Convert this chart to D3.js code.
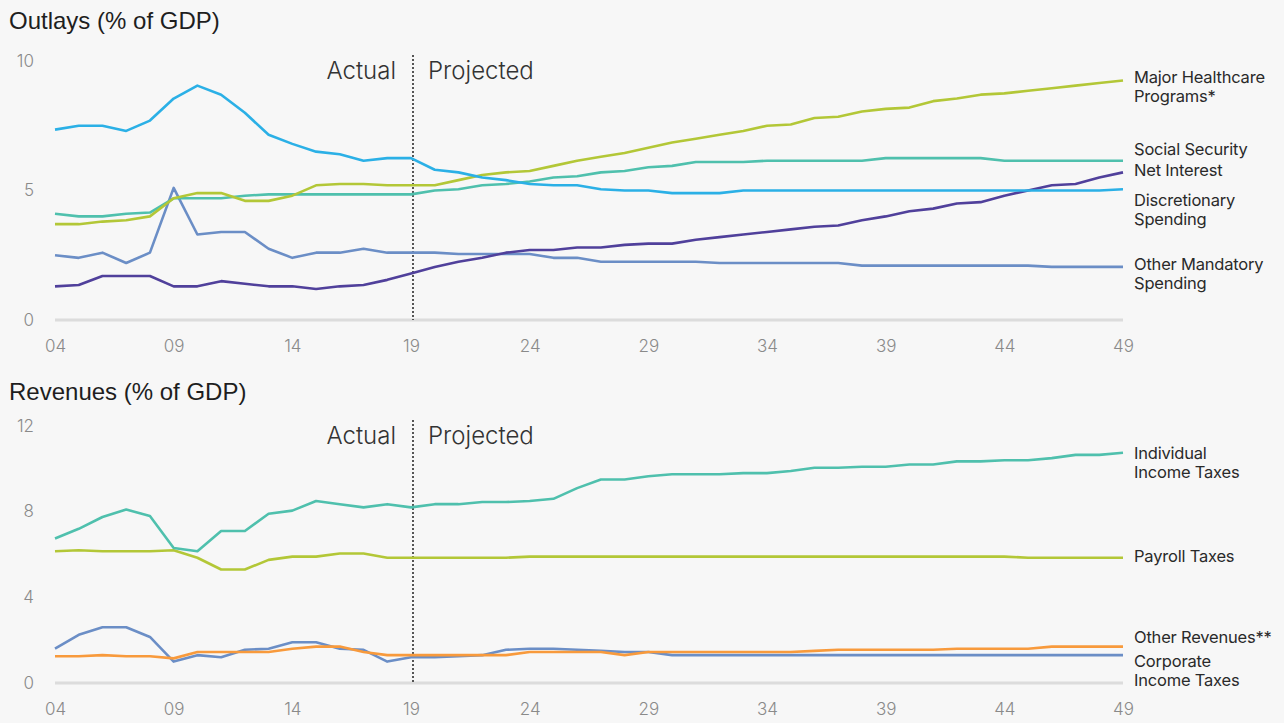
<!DOCTYPE html>
<html>
<head>
<meta charset="utf-8">
<script src="https://cdn.jsdelivr.net/npm/d3@7"></script>
<style>
  html, body { margin: 0; padding: 0; background: #f7f7f7; }
  svg { display: block; font-family: Inter, Roboto, sans-serif; }
</style>
</head>
<body>
<svg id="chart" width="1284" height="723"></svg>
<script>
// Fiscal years 2004–2049 (labelled by two-digit year)
const years = d3.range(2004, 2050);
const xTickYears = [2004, 2009, 2014, 2019, 2024, 2029, 2034, 2039, 2044, 2049];
const lastActualYear = 2019;

// Outlays, % of GDP
const outlaysTicks = [0, 5, 10];
const majorHealthcare = [3.7,3.7,3.8,3.85,4.0,4.7,4.9,4.9,4.6,4.6,4.8,5.2,5.25,5.25,5.2,5.2,
  5.2,5.4,5.6,5.7,5.75,5.95,6.15,6.3,6.45,6.65,6.85,7.0,7.15,7.3,7.5,7.55,7.8,7.85,8.05,8.15,
  8.2,8.45,8.55,8.7,8.75,8.85,8.95,9.05,9.15,9.25];
const socialSecurity = [4.1,4.0,4.0,4.1,4.15,4.7,4.7,4.7,4.8,4.85,4.85,4.85,4.85,4.85,4.85,4.85,
  5.0,5.05,5.2,5.25,5.35,5.5,5.55,5.7,5.75,5.9,5.95,6.1,6.1,6.1,6.15,6.15,6.15,6.15,6.15,6.25,
  6.25,6.25,6.25,6.25,6.15,6.15,6.15,6.15,6.15,6.15];
const netInterest = [1.3,1.35,1.7,1.7,1.7,1.3,1.3,1.5,1.4,1.3,1.3,1.2,1.3,1.35,1.55,1.8,
  2.05,2.25,2.4,2.6,2.7,2.7,2.8,2.8,2.9,2.95,2.95,3.1,3.2,3.3,3.4,3.5,3.6,3.65,3.85,4.0,
  4.2,4.3,4.5,4.55,4.8,5.0,5.2,5.25,5.5,5.7];
const discretionary = [7.35,7.5,7.5,7.3,7.7,8.55,9.05,8.7,8.0,7.15,6.8,6.5,6.4,6.15,6.25,6.25,
  5.8,5.7,5.5,5.4,5.25,5.2,5.2,5.05,5.0,5.0,4.9,4.9,4.9,5.0,5.0,5.0,5.0,5.0,5.0,5.0,
  5.0,5.0,5.0,5.0,5.0,5.0,5.0,5.0,5.0,5.05];
const otherMandatory = [2.5,2.4,2.6,2.2,2.6,5.1,3.3,3.4,3.4,2.75,2.4,2.6,2.6,2.75,2.6,2.6,
  2.6,2.55,2.55,2.55,2.55,2.4,2.4,2.25,2.25,2.25,2.25,2.25,2.2,2.2,2.2,2.2,2.2,2.2,2.1,2.1,
  2.1,2.1,2.1,2.1,2.1,2.1,2.05,2.05,2.05,2.05];

// Revenues, % of GDP
const revenuesTicks = [0, 4, 8, 12];
const individualIncome = [6.75,7.2,7.75,8.1,7.8,6.3,6.15,7.1,7.1,7.9,8.05,8.5,8.35,8.2,8.35,8.2,
  8.35,8.35,8.45,8.45,8.5,8.6,9.1,9.5,9.5,9.65,9.75,9.75,9.75,9.8,9.8,9.9,10.05,10.05,10.1,10.1,
  10.2,10.2,10.35,10.35,10.4,10.4,10.5,10.65,10.65,10.75];
const payroll = [6.15,6.2,6.15,6.15,6.15,6.2,5.85,5.3,5.3,5.75,5.9,5.9,6.05,6.05,5.85,5.85,
  5.85,5.85,5.85,5.85,5.9,5.9,5.9,5.9,5.9,5.9,5.9,5.9,5.9,5.9,5.9,5.9,5.9,5.9,5.9,5.9,
  5.9,5.9,5.9,5.9,5.9,5.85,5.85,5.85,5.85,5.85];
const otherRevenues = [1.25,1.25,1.3,1.25,1.25,1.15,1.45,1.45,1.45,1.45,1.6,1.7,1.7,1.45,1.3,1.3,
  1.3,1.3,1.3,1.3,1.45,1.45,1.45,1.45,1.3,1.45,1.45,1.45,1.45,1.45,1.45,1.45,1.5,1.55,1.55,1.55,
  1.55,1.55,1.6,1.6,1.6,1.6,1.7,1.7,1.7,1.7];
const corporateIncome = [1.6,2.25,2.6,2.6,2.15,1.0,1.3,1.2,1.55,1.6,1.9,1.9,1.6,1.55,1.0,1.2,
  1.2,1.25,1.3,1.55,1.6,1.6,1.55,1.5,1.45,1.45,1.3,1.3,1.3,1.3,1.3,1.3,1.3,1.3,1.3,1.3,
  1.3,1.3,1.3,1.3,1.3,1.3,1.3,1.3,1.3,1.3];

const outlaysSeries = [
  { values: otherMandatory,  color: "#6b8ec6" },
  { values: netInterest,     color: "#50409b" },
  { values: socialSecurity,  color: "#4fc0ad" },
  { values: majorHealthcare, color: "#b3c737" },
  { values: discretionary,   color: "#2bb0e6" }
];
const outlaysLabels = [
  { lines: ["Major Healthcare", "Programs*"], y: 77 },
  { lines: ["Social Security"], y: 149 },
  { lines: ["Net Interest"], y: 170 },
  { lines: ["Discretionary", "Spending"], y: 200 },
  { lines: ["Other Mandatory", "Spending"], y: 264 }
];

const revenuesSeries = [
  { values: payroll,          color: "#b3c737" },
  { values: individualIncome, color: "#4fc0ad" },
  { values: corporateIncome,  color: "#6b8ec6" },
  { values: otherRevenues,    color: "#f89a3c" }
];
const revenuesLabels = [
  { lines: ["Individual", "Income Taxes"], y: 453 },
  { lines: ["Payroll Taxes"], y: 556 },
  { lines: ["Other Revenues**"], y: 637 },
  { lines: ["Corporate", "Income Taxes"], y: 661 }
];

const svg = d3.select("#chart");
const x = d3.scaleLinear().domain([2004, 2049]).range([55, 1123]);
const yearLabel = d => String(d % 100).padStart(2, "0");

function panel({ title, titleY, ticks, yMax, top, bottom, series, labels }) {
  const y = d3.scaleLinear().domain([0, yMax]).range([bottom, top]);
  const g = svg.append("g");

  g.append("text")
    .attr("x", 9).attr("y", titleY)
    .attr("font-family", "'Liberation Sans', Arial, sans-serif")
    .attr("font-size", 24).attr("fill", "#1e1e1e")
    .text(title);

  // baseline
  g.append("line")
    .attr("x1", x(2004)).attr("x2", x(2049))
    .attr("y1", y(0)).attr("y2", y(0))
    .attr("stroke", "#dcdcdc").attr("stroke-width", 3);

  // value axis (labels only)
  const yAxis = d3.axisLeft(y).tickValues(ticks).tickSize(0).tickPadding(0);
  g.append("g").attr("transform", "translate(34,0)").call(yAxis)
    .call(a => a.select(".domain").remove())
    .selectAll("text")
    .attr("font-size", 17).attr("fill", "#8a8a8a")
    .attr("font-family", "Inter, sans-serif").attr("font-weight", 300)
    .attr("dy", "0.3em");

  // year axis (labels only)
  const xAxis = d3.axisBottom(x).tickValues(xTickYears).tickFormat(yearLabel)
    .tickSize(0).tickPadding(0);
  g.append("g").attr("transform", `translate(0,${y(0) + 27})`).call(xAxis)
    .call(a => a.select(".domain").remove())
    .selectAll("text")
    .attr("font-size", 17).attr("fill", "#8a8a8a")
    .attr("font-family", "Inter, sans-serif").attr("font-weight", 300)
    .attr("dy", "0.3em");

  // actual / projected divider
  g.append("line")
    .attr("x1", x(lastActualYear) + 2).attr("x2", x(lastActualYear) + 2)
    .attr("y1", top - 6).attr("y2", y(0))
    .attr("stroke", "#555").attr("stroke-width", 2)
    .attr("stroke-dasharray", "2,2");
  g.append("text")
    .attr("x", x(lastActualYear) - 15).attr("y", top + 18)
    .attr("text-anchor", "end").attr("font-size", 24).attr("font-weight", 300)
    .attr("fill", "#333").text("Actual");
  g.append("text")
    .attr("x", x(lastActualYear) + 17).attr("y", top + 18)
    .attr("font-size", 24).attr("font-weight", 300)
    .attr("fill", "#333").text("Projected");

  const line = d3.line().x((d, i) => x(years[i])).y(d => y(d));
  g.selectAll("path.series").data(series).join("path")
    .attr("class", "series")
    .attr("d", s => line(s.values))
    .attr("fill", "none")
    .attr("stroke", s => s.color)
    .attr("stroke-width", 2.6)
    .attr("stroke-linejoin", "round");

  // series labels at the right end
  labels.forEach(l => {
    const t = g.append("text").attr("x", 1134).attr("y", l.y)
      .attr("font-size", 16.5).attr("fill", "#2a2a2a").attr("dy", "0.35em")
      .attr("letter-spacing", -0.2);
    l.lines.forEach((s, i) => {
      t.append("tspan").attr("x", 1134).attr("dy", i === 0 ? "0.35em" : 19).text(s);
    });
  });
}

panel({
  title: "Outlays (% of GDP)", titleY: 29, ticks: outlaysTicks, yMax: 10,
  top: 61, bottom: 320, series: outlaysSeries, labels: outlaysLabels
});
panel({
  title: "Revenues (% of GDP)", titleY: 400, ticks: revenuesTicks, yMax: 12,
  top: 426, bottom: 683, series: revenuesSeries, labels: revenuesLabels
});
</script>
</body>
</html>
